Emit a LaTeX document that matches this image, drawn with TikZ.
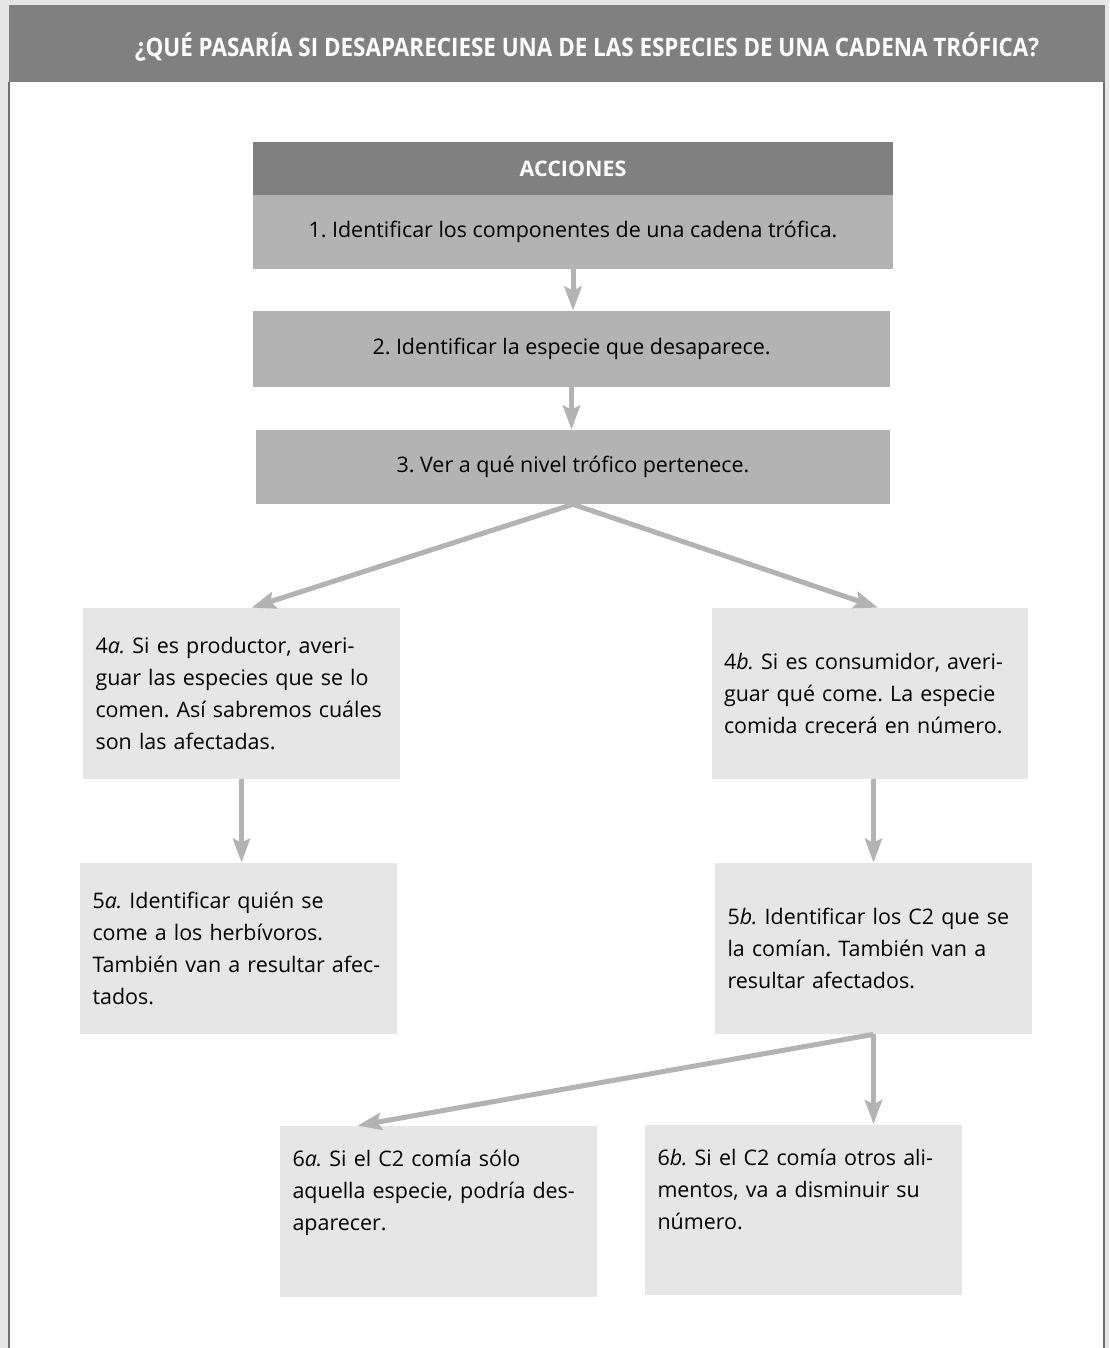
\documentclass[tikz,border=0pt]{standalone}
\usepackage{fontspec}
\usepackage{graphicx}
\setmainfont{Open Sans}
\usetikzlibrary{arrows.meta}
\definecolor{cabecera}{HTML}{808080}
\definecolor{pasos}{HTML}{B3B3B3}
\definecolor{casos}{HTML}{E6E6E6}
\definecolor{marco}{HTML}{6E6E6E}
\newcommand{\caso}[2]{#1\textit{#2.}}
\newcommand{\letra}{\fontsize{12.2}{18.2}\selectfont\frenchspacing}

\begin{document}
\begin{tikzpicture}[x=0.02cm,y=-0.02cm,
    paso/.style={fill=pasos, minimum width=12.8cm, minimum height=1.48cm, inner sep=0pt, font=\letra},
    caja/.style={fill=casos, minimum width=6.34cm, minimum height=3.42cm, text width=5.84cm,
      inner xsep=0.25cm, inner ysep=0pt, align=left, font=\letra},
    flecha/.style={draw=pasos, line width=0.1cm, -{Stealth[length=0.48cm,width=0.34cm,inset=0.08cm]}}]
    \useasboundingbox (0,0) rectangle (1109,1348);
    %marco
    \fill[casos] (0,0) rectangle (1109,1348);
    \fill[white] (9,82) rectangle (1104,1348);
    \fill[cabecera] (9,5) rectangle (1105,82);
    \draw[marco, line width=0.04cm] (9,82) -- (9,1348) (1104,82) -- (1104,1348);
    \node[text=white, font=\bfseries\fontsize{14.5}{17}\selectfont] (titulo) at (587,47)
        {\scalebox{0.88}[1]{¿QUÉ PASARÍA SI DESAPARECIESE UNA DE LAS ESPECIES DE UNA CADENA TRÓFICA?}};

    %acciones
    \node[fill=cabecera, minimum width=12.8cm, minimum height=1.06cm, inner sep=0pt,
        text=white, font=\bfseries\letra] (acciones) at (573,168.5) {ACCIONES};
    \node[paso] (p1) at (573,232) {1. Identificar los componentes de una cadena trófica.};
    \node[paso, minimum width=12.74cm, minimum height=1.52cm] (p2) at (571.5,349) {2. Identificar la especie que desaparece.};
    \node[paso, minimum width=12.68cm] (p3) at (573,467) {3. Ver a qué nivel trófico pertenece.};

    %casos
    \node[caja] (c4a) at (241.5,693.5) {\caso{4}{a} Si es productor, averi-\\guar las especies que se lo\\comen. Así sabremos cuáles\\son las afectadas.};
    \node[caja] (c4b) at (870,693.5) {\caso{4}{b} Si es consumidor, averi-\\guar qué come. La especie\\comida crecerá en número.};
    \node[caja] (c5a) at (238.5,948.5) {\caso{5}{a} Identificar quién se\\come a los herbívoros.\\También van a resultar afec-\\tados.};
    \node[caja] (c5b) at (873.5,948.5) {\caso{5}{b} Identificar los C2 que se\\la comían. También van a\\resultar afectados.};
    \node[caja] (c6a) at (438.5,1211.5) {\caso{6}{a} Si el C2 comía sólo\\aquella especie, podría des-\\aparecer.\\\strut};
    \node[caja] (c6b) at (803.5,1210) {\caso{6}{b} Si el C2 comía otros ali-\\mentos, va a disminuir su\\número.\\\strut};

    %flechas
    \draw[flecha] (p1.south) -- (p1.south |- p2.north);
    \draw[flecha] (p2.south) -- (p2.south |- p3.north);
    \draw[flecha] (p3.south) -- ([xshift=0.2cm]c4a.north);
    \draw[flecha] (p3.south) -- ([xshift=0.16cm]c4b.north);
    \draw[flecha] (c4a.south) -- (c5a.north -| c4a.south);
    \draw[flecha] (c5b.north |- c4b.south) -- (c5b.north);
    \draw[flecha] (c5b.south) -- ([xshift=-1.62cm]c6a.north);
    \draw[flecha] (c5b.south) -- (c5b.south |- c6b.north);
\end{tikzpicture}
\end{document}
